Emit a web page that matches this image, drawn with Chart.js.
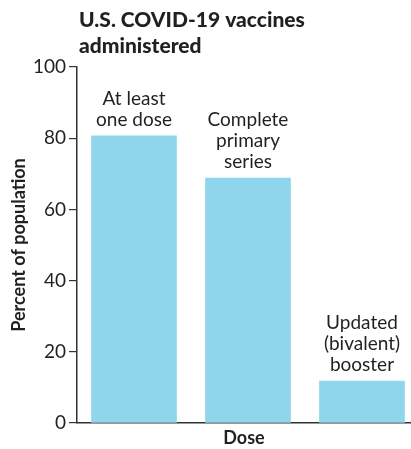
<!DOCTYPE html>
<html>
<head>
<meta charset="utf-8">
<script src="https://cdn.jsdelivr.net/npm/chart.js@4"></script>
<style>
  html, body { margin: 0; padding: 0; background: #fff; }
  #wrap { width: 411px; height: 449px; }
</style>
</head>
<body>
<div id="wrap"><canvas id="myChart" width="411" height="449"></canvas></div>
<script>
const titleLines = ["U.S. COVID-19 vaccines", "administered"];
const doses = [
  ["At least", "one dose"],
  ["Complete", "primary", "series"],
  ["Updated", "(bivalent)", "booster"]
];
const positions = [1, 2, 3];
const percents = [80.7, 68.8, 11.8];
const yTicks = [0, 20, 40, 60, 80, 100];

const ink = '#231f20';

// title + the labels sitting on top of each bar
const labelPlugin = {
  id: 'labels',
  afterDatasetsDraw(chart) {
    const c = chart.ctx;
    c.save();
    c.fillStyle = ink;
    c.textAlign = 'left';
    c.textBaseline = 'alphabetic';
    c.font = '900 21px Lato';
    titleLines.forEach((t, i) => c.fillText(t, 79, 27 + i * 26));

    c.font = '19px Lato';
    c.textAlign = 'center';
    const meta = chart.getDatasetMeta(0);
    meta.data.forEach((bar, i) => {
      const lines = doses[i];
      const base = bar.y - 10;
      lines.forEach((t, j) => {
        c.fillText(t, bar.x, base - (lines.length - 1 - j) * 21);
      });
    });
    c.restore();
  }
};

const ctx = document.getElementById('myChart');
const config = {
  type: 'bar',
  data: {
    datasets: [{
      data: positions.map((p, i) => ({ x: p, y: percents[i] })),
      backgroundColor: '#8fd6ec',
      barThickness: 85,
      borderWidth: 0
    }]
  },
  options: {
    responsive: false,
    animation: false,
    layout: { padding: { top: 67, right: 0, bottom: 0, left: 0 } },
    plugins: { legend: { display: false }, tooltip: { enabled: false } },
    scales: {
      x: {
        type: 'linear',
        min: 0.5,
        max: 3.43,
        offset: false,
        afterFit(scale) { scale.height = 26; },
        grid: { display: false },
        border: { display: true, color: '#333', width: 1.5 },
        ticks: { display: false },
        title: {
          display: true,
          text: 'Dose',
          color: ink,
          font: { family: 'Lato', size: 18, weight: 'bold' },
          padding: { top: 6, bottom: 0 }
        }
      },
      y: {
        min: 0,
        max: 100,
        afterBuildTicks(scale) { scale.ticks = yTicks.map(v => ({ value: v })); },
        afterFit(scale) { scale.width = 77; },
        grid: { drawOnChartArea: false, tickLength: 8, color: '#333', lineWidth: 1.2 },
        border: { display: true, color: '#333', width: 1.5 },
        ticks: {
          color: ink,
          padding: 3,
          font: { family: 'Lato', size: 19 }
        },
        title: {
          display: true,
          text: 'Percent of population',
          color: ink,
          font: { family: 'Lato', size: 18, weight: 'bold' },
          padding: { top: 8, bottom: 0 }
        }
      }
    }
  },
  plugins: [labelPlugin]
};

new Chart(ctx, config);
</script>
</body>
</html>
